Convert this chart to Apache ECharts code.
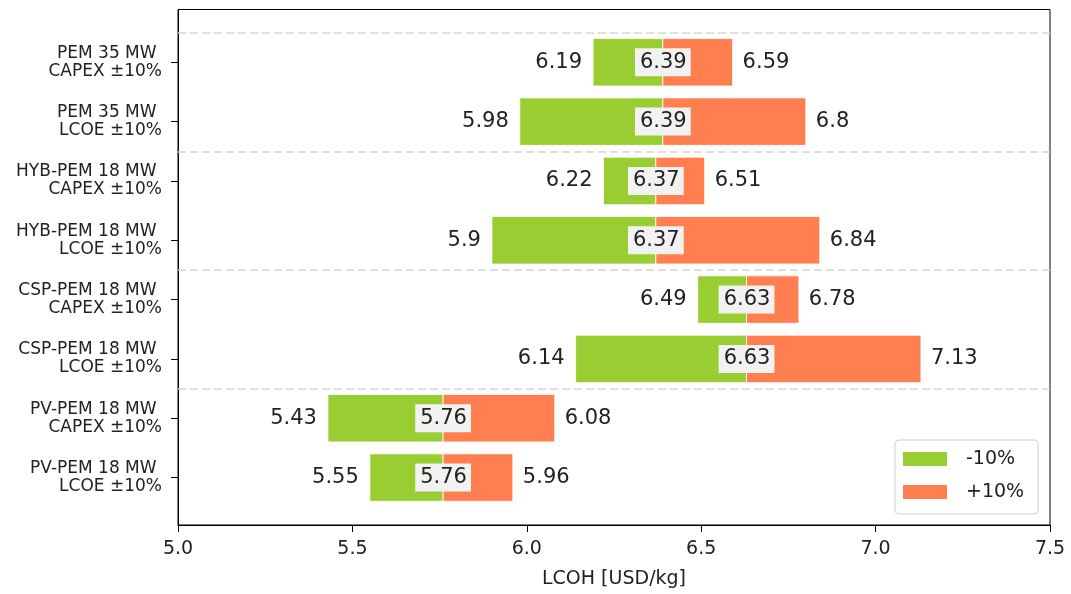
<!DOCTYPE html>
<html>
<head>
<meta charset="utf-8">
<script src="https://cdn.jsdelivr.net/npm/echarts@6/dist/echarts.min.js"></script>
<style>
  html, body { margin: 0; padding: 0; background: #fff; }
  #chart { width: 1071px; height: 594px; }
</style>
</head>
<body>
<div id="chart"></div>
<script>
// Scenario rows, top to bottom
const categories = [
  'PEM 35 MW \nCAPEX ±10%',
  'PEM 35 MW \nLCOE ±10%',
  'HYB-PEM 18 MW \nCAPEX ±10%',
  'HYB-PEM 18 MW \nLCOE ±10%',
  'CSP-PEM 18 MW \nCAPEX ±10%',
  'CSP-PEM 18 MW \nLCOE ±10%',
  'PV-PEM 18 MW \nCAPEX ±10%',
  'PV-PEM 18 MW \nLCOE ±10%'
];
// LCOH [USD/kg]: base case, -10% and +10% results
const baseValues = [6.39, 6.39, 6.37, 6.37, 6.63, 6.63, 5.76, 5.76];
const lowValues  = [6.19, 5.98, 6.22, 5.90, 6.49, 6.14, 5.43, 5.55];
const highValues = [6.59, 6.80, 6.51, 6.84, 6.78, 7.13, 6.08, 5.96];
// Group separators between plant configurations
const dividers = [-0.5, 1.5, 3.5, 5.5];
const xTicks = [5.0, 5.5, 6.0, 6.5, 7.0, 7.5];

const FONT = 'DejaVu Sans';
const TEXT = '#222';
const rowIdx = categories.map((_, i) => i);

function renderBar(params, api) {
  const y = api.value(0);
  const p0 = api.coord([api.value(1), y]);
  const p1 = api.coord([api.value(2), y]);
  const h = api.size([0, 0.8])[1];
  return {
    type: 'rect',
    shape: { x: Math.min(p0[0], p1[0]), y: p0[1] - h / 2, width: Math.abs(p1[0] - p0[0]), height: h },
    style: { fill: api.visual('color'), stroke: '#fff', lineWidth: 0.8 }
  };
}

const labelBase = { show: true, fontFamily: FONT, fontSize: 21, color: TEXT };
const fmt = p => String(p.value[0]);
const labelSeries = (name, values, label, z) => ({
  name, type: 'scatter', symbolSize: 0, silent: true, z,
  itemStyle: { opacity: 1 },
  data: rowIdx.map(i => [values[i], i]),
  label: Object.assign({}, labelBase, { formatter: fmt }, label)
});

const chart = echarts.init(document.getElementById('chart'), null, { renderer: 'canvas' });
chart.setOption({
  animation: false,
  backgroundColor: '#fff',
  grid: { show: true, left: 178, right: 21, top: 9.5, bottom: 69, borderColor: '#000', borderWidth: 1 },
  legend: {
    data: ['-10%', '+10%'],
    orient: 'vertical',
    left: 895, top: 440,
    padding: [9, 14, 12, 8],
    itemWidth: 44, itemHeight: 14, itemGap: 13,
    icon: 'rect',
    borderColor: '#cfcfcf', borderWidth: 1, borderRadius: 4,
    backgroundColor: 'rgba(255,255,255,0.85)',
    textStyle: { fontFamily: FONT, fontSize: 19, color: TEXT, lineHeight: 20, padding: [0, 0, 0, 14] }
  },
  xAxis: {
    type: 'value', min: 5.0, max: 7.5, interval: 0.5,
    name: 'LCOH [USD/kg]', nameLocation: 'middle', nameGap: 45,
    nameTextStyle: { fontFamily: FONT, fontSize: 19, color: TEXT },
    axisLine: { show: true, onZero: false, lineStyle: { color: '#000', width: 1 } },
    axisTick: { show: true, length: 7, lineStyle: { color: '#000' } },
    axisLabel: { fontFamily: FONT, fontSize: 19, color: TEXT, margin: 15, formatter: v => v.toFixed(1),
                 customValues: xTicks },
    splitLine: { show: false }
  },
  yAxis: {
    type: 'value', inverse: true, min: -0.89, max: 7.8,
    axisLine: { show: true, onZero: false, lineStyle: { color: '#000', width: 1 } },
    axisTick: { show: true, length: 7, customValues: rowIdx, lineStyle: { color: '#000' } },
    axisLabel: {
      customValues: rowIdx,
      formatter: v => categories[Math.round(v)] || '',
      fontFamily: FONT, fontSize: 17, lineHeight: 18, color: TEXT, margin: 16, align: 'right'
    },
    splitLine: { show: false }
  },
  series: [
    {
      name: '-10%', type: 'custom', color: '#9ACD32',
      renderItem: renderBar,
      encode: { x: [1, 2], y: 0 },
      data: rowIdx.map(i => [i, lowValues[i], baseValues[i]]),
      markLine: {
        silent: true, symbol: ['none', 'none'], label: { show: false },
        lineStyle: { color: '#d6d6d6', width: 1.5, type: [8, 4] },
        data: dividers.map(d => ({ yAxis: d }))
      },
      z: 2
    },
    {
      name: '+10%', type: 'custom', color: '#FF7F50',
      renderItem: renderBar,
      encode: { x: [1, 2], y: 0 },
      data: rowIdx.map(i => [i, baseValues[i], highValues[i]]),
      z: 2
    },
    labelSeries('low-labels', lowValues, { position: 'left', distance: 11 }, 5),
    labelSeries('high-labels', highValues, { position: 'right', distance: 10 }, 5),
    labelSeries('base-labels', baseValues, {
      position: 'inside', backgroundColor: '#f2f2f2', padding: [4, 4, 3, 5]
    }, 6)
  ]
});
</script>
</body>
</html>
